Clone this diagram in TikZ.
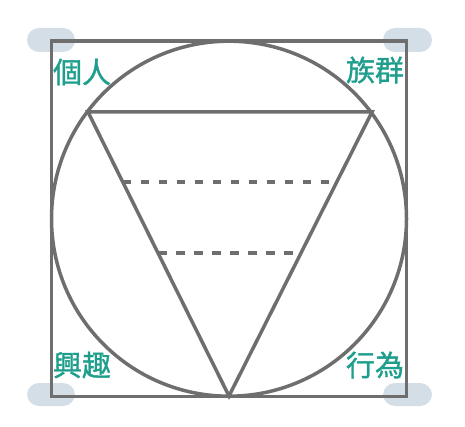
\documentclass[tikz,border=0pt]{standalone}
\usepackage{fontspec}
\newfontfamily\cjk[FakeBold=1.2]{Noto Sans CJK TC}
\definecolor{linegray}{HTML}{6E6E6E}
\definecolor{tealtext}{HTML}{1E9E8C}
\definecolor{pillblue}{HTML}{D4DEE7}
\tikzset{
  frame/.style={draw=linegray, line width=3.5pt},
  dashline/.style={draw=linegray, line width=3.3pt, dash pattern=on 8.5pt off 9.5pt},
  pill/.style={fill=pillblue, rounded corners=12pt},
  lbl/.style={text=tealtext, font=\cjk\fontsize{29}{29}\selectfont, inner sep=0pt}
}
\begin{document}
\begin{tikzpicture}[x=1pt,y=-1pt]
\useasboundingbox (0,0) rectangle (465,427);
% corner pills
\fill[pill] (27,28) rectangle (75,52);
\fill[pill] (383,28) rectangle (432,52);
\fill[pill] (27,383) rectangle (75,406);
\fill[pill] (383,383) rectangle (432,406);
% square and circle
\draw[frame] (51.5,41) rectangle (406.5,396.5);
\draw[frame] (229,218.7) circle (177.5);
% triangle
\coordinate (tl) at (88,112);
\coordinate (tr) at (372,112);
\coordinate (bt) at (229,396);
\draw[frame, line join=miter] (tl) -- (tr) -- (bt) -- cycle;
% dashed lines
\coordinate (d1l) at (122.7,182);
\coordinate (d1r) at (335.3,182);
\coordinate (d2l) at (158,253);
\coordinate (d2r) at (300,253);
\draw[dashline] (d1l) -- (d1r);
\draw[dashline] (d2l) -- (d2r);
% labels
\node[lbl] (ge) at (82,72) {個人};
\node[lbl] (zu) at (375,70) {族群};
\node[lbl] (xi) at (82,365) {興趣};
\node[lbl] (xw) at (375,365) {行為};
\end{tikzpicture}
\end{document}
